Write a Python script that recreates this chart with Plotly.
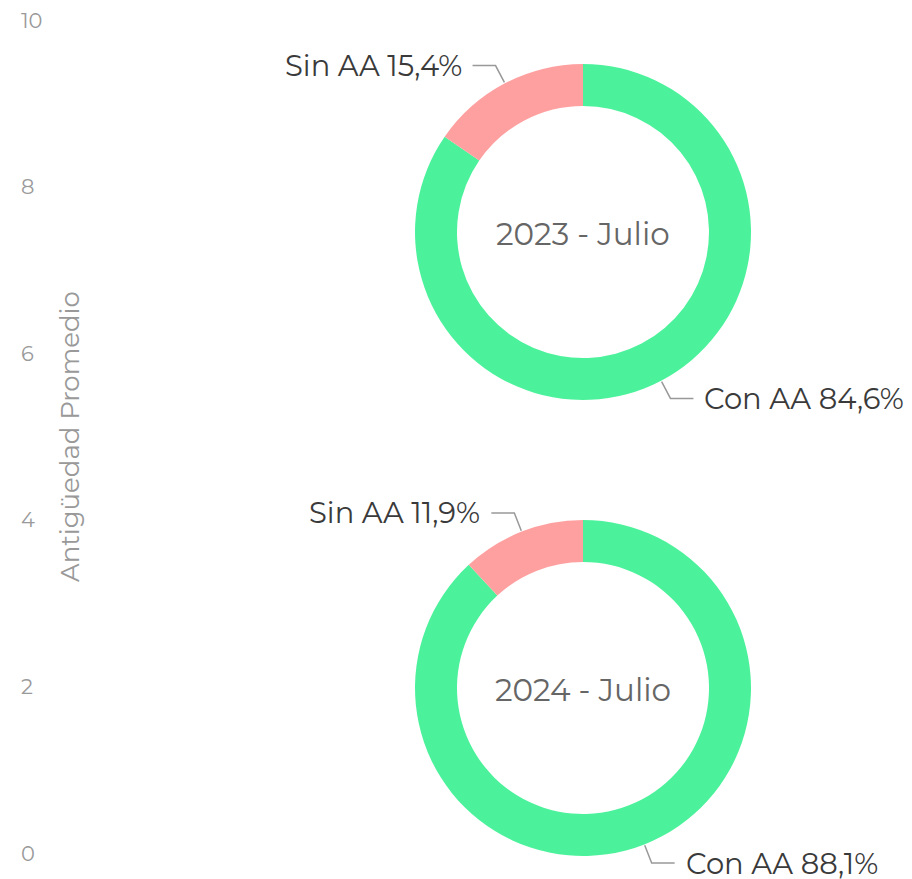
import math
import plotly.graph_objects as go

# ---- data ----
periods = ["2023 - Julio", "2024 - Julio"]
slice_labels = ["Con AA", "Sin AA"]
con_aa = [84.6, 88.1]
sin_aa = [15.4, 11.9]
ytick_vals = [0, 2, 4, 6, 8, 10]
y_title = "Antigüedad Promedio"

colors = ["#4cf29b", "#ffa0a0"]
FONT = "Montserrat, 'Open Sans', sans-serif"

W, H = 912, 879
ML, MR, MT, MB = 0, 0, 20, 20
PW, PH = W - ML - MR, H - MT - MB

def px(xp):
    return (xp - ML) / PW

def py(yp):
    return (H - MB - yp) / PH

# pie placement (pixel centres, outer radius)
centres = [(583, 232), (583, 688)]
R = 168

fig = go.Figure()
fig.add_trace(go.Scatter(x=[None], y=[None], showlegend=False, hoverinfo="skip"))

shapes = []
annotations = []
for i, (cx, cy) in enumerate(centres):
    vals = [con_aa[i], sin_aa[i]]
    fig.add_trace(go.Pie(
        labels=slice_labels, values=vals, hole=0.75, sort=False,
        direction="clockwise", rotation=0,
        marker=dict(colors=colors, line=dict(width=0)),
        textinfo="none", showlegend=False,
        domain=dict(x=[px(cx - R), px(cx + R)], y=[py(cy + R), py(cy - R)]),
    ))
    annotations.append(dict(
        text=periods[i], x=px(cx), y=py(cy + 2), xref="paper", yref="paper",
        xanchor="center", yanchor="middle",
        showarrow=False, font=dict(family=FONT, size=31, color="#666666"),
    ))
    total = sum(vals)
    cum = 0
    for lab, v in zip(slice_labels, vals):
        mid = (cum + v / 2) / total * 2 * math.pi
        cum += v
        ux, uy = math.sin(mid), -math.cos(mid)
        sx, sy = cx + (R + 1) * ux, cy + (R + 1) * uy
        ex, ey = cx + (R + 20) * ux, cy + (R + 20) * uy
        side = 1 if ux >= 0 else -1
        hx = ex + side * 23
        shapes.append(dict(
            type="path", xref="paper", yref="paper",
            path=f"M {px(sx)} {py(sy)} L {px(ex)} {py(ey)} L {px(hx)} {py(ey)}",
            line=dict(color="#999999", width=1.5),
        ))
        pct = f"{v:.1f}".replace(".", ",")
        annotations.append(dict(
            text=f"{lab} {pct}%", x=px(hx + side * 9), y=py(ey),
            xref="paper", yref="paper", showarrow=False,
            xanchor="left" if side > 0 else "right", yanchor="middle",
            font=dict(family=FONT, size=29, color="#3a3a3a"),
        ))

# y tick labels (left aligned, as in the reference)
for v in ytick_vals:
    annotations.append(dict(
        text=str(v), x=px(19), y=v, xref="paper", yref="y",
        showarrow=False, xanchor="left", yanchor="middle",
        font=dict(family=FONT, size=21, color="#9a9a9a"),
    ))

annotations.append(dict(
    text=y_title, x=px(70), y=py(437), xref="paper", yref="paper",
    xanchor="center", yanchor="middle",
    showarrow=False, textangle=-90, font=dict(family=FONT, size=26, color="#999999"),
))

fig.update_layout(
    width=W, height=H,
    margin=dict(l=ML, r=MR, t=MT, b=MB),
    paper_bgcolor="white", plot_bgcolor="white",
    showlegend=False,
    xaxis=dict(visible=False, range=[0, 1]),
    yaxis=dict(range=[0, 10], domain=[py(853), py(20)], tickvals=ytick_vals,
               showticklabels=False,
               showgrid=False, zeroline=False, showline=False, ticks=""),
    shapes=shapes, annotations=annotations,
)

fig.write_html("out.html", config={"displayModeBar": False},
               post_script="document.body.style.margin='0';")
